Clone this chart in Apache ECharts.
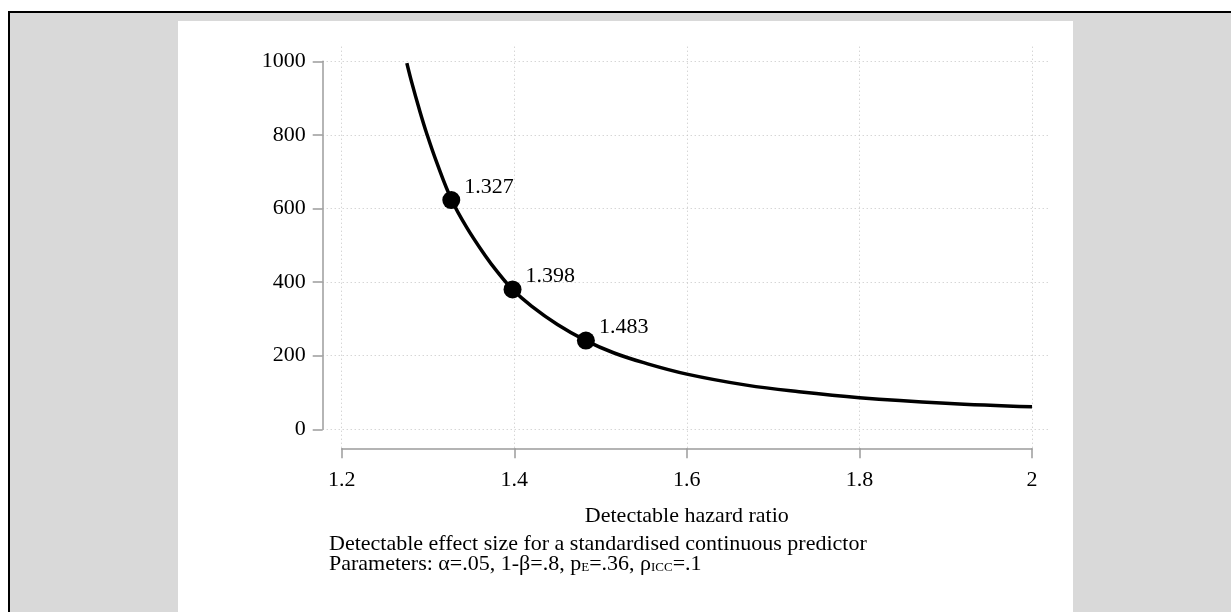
<!DOCTYPE html>
<html>
<head>
<meta charset="utf-8">
<script src="https://cdn.jsdelivr.net/npm/echarts@6/dist/echarts.min.js"></script>
<style>
  html, body { margin: 0; padding: 0; background: #fff; }
  #frame {
    position: absolute; left: 8px; top: 11px; right: 0; bottom: 0;
    border-left: 2px solid #000; border-top: 2px solid #000;
    background: #d9d9d9;
  }
  #panel { position: absolute; left: 168px; top: 8px; width: 895px; bottom: 0; background: #fff; }
  #chart { position: absolute; left: 0; top: 0; width: 1231px; height: 612px; }
</style>
</head>
<body>
<div id="frame"><div id="panel"></div></div>
<div id="chart"></div>
<script>
// curve: detectable HR vs sample size
const hazardRatio = [1.2755, 1.281, 1.29, 1.2985, 1.31, 1.3275, 1.345, 1.366, 1.38, 1.398,
  1.42, 1.45, 1.483, 1.515, 1.55, 1.6, 1.669, 1.73, 1.8, 1.9, 2.0];
const sampleSize = [995, 944, 869, 804, 726, 623, 548, 473, 429, 380,
  335, 285, 241, 208, 181, 150, 120, 102, 86, 71, 61];
// highlighted points
const markedHR = [1.327, 1.398, 1.483];
const markedN = [623, 380, 241];
const xTicks = [1.2, 1.4, 1.6, 1.8, 2];
const yTicks = [0, 200, 400, 600, 800, 1000];

const serif = "'Liberation Serif', 'DejaVu Serif', serif";
const gridColor = "#c4c4c4";
const axisColor = "#9c9c9c";

var myChart = echarts.init(document.getElementById("chart"), null, { renderer: "canvas" });
var option = {
  backgroundColor: "transparent",
  animation: false,
  textStyle: { fontFamily: serif },
  title: {
    left: 329,
    top: 534,
    padding: 0,
    text: "Detectable effect size for a standardised continuous predictor\n" +
      "Parameters: α=.05, 1-β=.8, p{s|E}=.36, ρ{s|ICC}=.1",
    textStyle: {
      fontFamily: serif,
      fontSize: 22,
      fontWeight: "normal",
      color: "#000",
      lineHeight: 20,
      rich: {
        s: { fontFamily: serif, fontSize: 13, verticalAlign: "bottom", lineHeight: 20, color: "#000" },
      },
    },
  },
  grid: [
    // grid lines area (extends past the axes, Stata style)
    { left: 322.7, right: 181.7, top: 46.7, bottom: 163.7, outerBoundsMode: "none" },
    // data area + y axis
    { left: 341.7, right: 199, top: 61.3, bottom: 182.7, outerBoundsMode: "none" },
    // x axis, sitting below the data area
    { left: 341.7, right: 199, top: 61.3, bottom: 163.7, outerBoundsMode: "none" },
  ],
  xAxis: [
    {
      gridIndex: 0,
      type: "value",
      min: 1.2 - 19 / 862.9,
      max: 2 + 17.3 / 862.9,
      axisLine: { show: false },
      axisTick: { show: false, customValues: xTicks },
      axisLabel: { show: false, customValues: xTicks },
      splitLine: { show: true, lineStyle: { color: gridColor, width: 1, type: [1, 3] } },
    },
    {
      gridIndex: 1,
      type: "value",
      min: 1.2,
      max: 2,
      show: false,
    },
    {
      gridIndex: 2,
      type: "value",
      min: 1.2,
      max: 2,
      interval: 0.2,
      name: "Detectable hazard ratio",
      nameLocation: "middle",
      nameGap: 57,
      nameTextStyle: { fontFamily: serif, fontSize: 22, color: "#000" },
      axisLine: { show: true, lineStyle: { color: axisColor, width: 1.5 } },
      axisTick: { show: true, length: 10, lineStyle: { color: axisColor, width: 1.5 } },
      axisLabel: { fontFamily: serif, fontSize: 22, color: "#000", margin: 21, formatter: (v) => String(v) },
      splitLine: { show: false },
    },
  ],
  yAxis: [
    {
      gridIndex: 0,
      type: "value",
      min: -19 / 0.368,
      max: 1000 + 14.6 / 0.368,
      axisLine: { show: false },
      axisTick: { show: false, customValues: yTicks },
      axisLabel: { show: false, customValues: yTicks },
      splitLine: { show: true, lineStyle: { color: gridColor, width: 1, type: [1, 3] } },
    },
    {
      gridIndex: 1,
      type: "value",
      min: 0,
      max: 1000,
      interval: 200,
      offset: 19,
      axisLine: { show: true, lineStyle: { color: axisColor, width: 1.5 } },
      axisTick: { show: true, length: 10, lineStyle: { color: axisColor, width: 1.5 } },
      axisLabel: { fontFamily: serif, fontSize: 22, color: "#000", margin: 17, formatter: (v) => String(v) },
      splitLine: { show: false },
    },
    {
      gridIndex: 2,
      type: "value",
      show: false,
    },
  ],
  series: [
    {
      type: "line",
      xAxisIndex: 1,
      yAxisIndex: 1,
      data: hazardRatio.map((x, i) => [x, sampleSize[i]]),
      smooth: 0.4,
      showSymbol: false,
      clip: false,
      lineStyle: { color: "#000", width: 3.5 },
    },
    {
      type: "scatter",
      xAxisIndex: 1,
      yAxisIndex: 1,
      data: markedHR.map((x, i) => [x, markedN[i]]),
      symbol: "circle",
      symbolSize: 18,
      itemStyle: { color: "#000", opacity: 1 },
      label: {
        show: true,
        position: "right",
        distance: 4,
        offset: [0, -13],
        fontFamily: serif,
        fontSize: 22,
        color: "#000",
        opacity: 1,
        formatter: function (p) {
          return p.value[0].toFixed(3);
        },
      },
    },
  ],
};
myChart.setOption(option);
</script>
</body>
</html>
